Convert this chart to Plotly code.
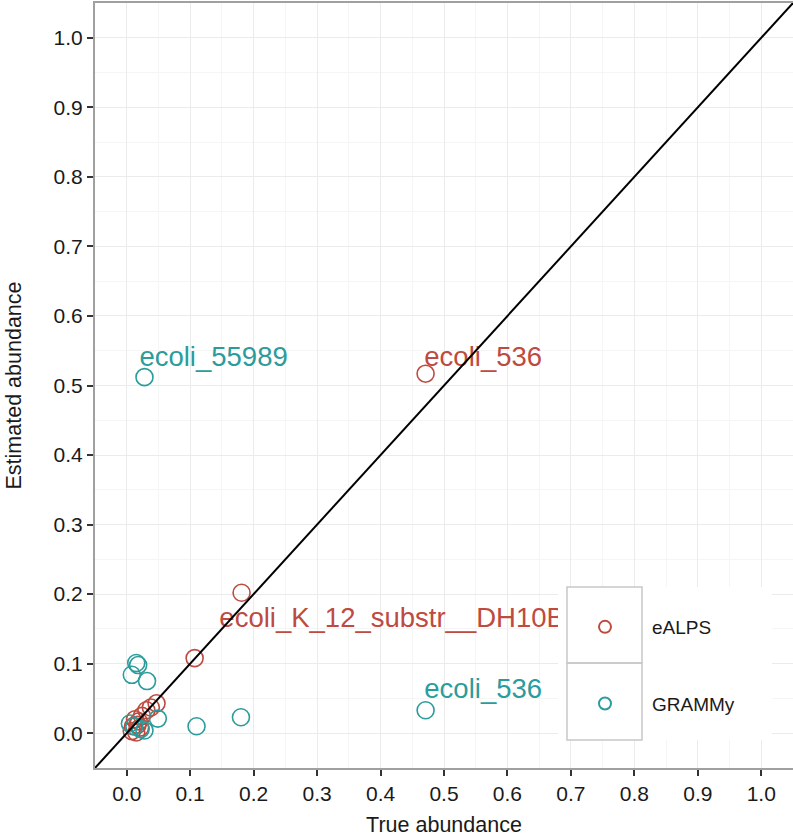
import plotly.graph_objects as go

# ---- data ----
axis_range = [-0.05, 1.05]
tick_vals = [0.0, 0.1, 0.2, 0.3, 0.4, 0.5, 0.6, 0.7, 0.8, 0.9, 1.0]
tick_text = ["0.0", "0.1", "0.2", "0.3", "0.4", "0.5", "0.6", "0.7", "0.8", "0.9", "1.0"]

ealps_true = [0.471, 0.181, 0.107, 0.047, 0.038, 0.031, 0.024, 0.019, 0.013, 0.010, 0.015, 0.008, 0.021, 0.017]
ealps_est = [0.517, 0.202, 0.108, 0.043, 0.037, 0.033, 0.025, 0.017, 0.020, 0.010, 0.001, 0.003, 0.008, 0.012]

grammy_true = [0.028, 0.471, 0.180, 0.110, 0.015, 0.018, 0.008, 0.032, 0.049, 0.005, 0.028, 0.012, 0.022]
grammy_est = [0.512, 0.033, 0.023, 0.010, 0.101, 0.098, 0.084, 0.075, 0.021, 0.014, 0.004, 0.010, 0.006]

ealps_lab_x = [0.469, 0.146]
ealps_lab_y = [0.538, 0.162]
ealps_lab = ["ecoli_536", "ecoli_K_12_substr__DH10B"]

grammy_lab_x = [0.020, 0.469]
grammy_lab_y = [0.538, 0.061]
grammy_lab = ["ecoli_55989", "ecoli_536"]

RED = "#BE4A40"
TEAL = "#2B9C9C"
FONT = "Liberation Sans, Arial, Helvetica, sans-serif"

fig = go.Figure()

fig.add_trace(go.Scatter(
    x=ealps_true, y=ealps_est, mode="markers", name="eALPS",
    legendgroup="a",
    marker=dict(symbol="circle-open", size=17, color=RED, line=dict(width=1.6, color=RED)),
))
fig.add_trace(go.Scatter(
    x=grammy_true, y=grammy_est, mode="markers", name="GRAMMy",
    legendgroup="b",
    marker=dict(symbol="circle-open", size=17, color=TEAL, line=dict(width=1.6, color=TEAL)),
))
fig.add_trace(go.Scatter(
    x=ealps_lab_x, y=ealps_lab_y, text=ealps_lab, mode="text",
    textposition="middle right", showlegend=False,
    textfont=dict(size=27.5, color=RED, family=FONT), cliponaxis=True,
))
fig.add_trace(go.Scatter(
    x=grammy_lab_x, y=grammy_lab_y, text=grammy_lab, mode="text",
    textposition="middle right", showlegend=False,
    textfont=dict(size=27.5, color=TEAL, family=FONT), cliponaxis=True,
))
fig.add_trace(go.Scatter(
    x=axis_range, y=axis_range, mode="lines", showlegend=False,
    line=dict(color="black", width=2),
))

W, H = 793, 837
ml, mr, mt, mb = 95, 0, 3, 69
pw, ph = W - ml - mr, H - mt - mb


def px(xp):
    return (xp - ml) / pw


def py(yp):
    return (H - mb - yp) / ph


shapes = [
    dict(type="rect", xref="paper", yref="paper", x0=px(558), x1=px(772), y0=py(740), y1=py(587),
         fillcolor="white", line=dict(width=0), layer="above"),
    dict(type="rect", xref="paper", yref="paper", x0=px(567), x1=px(642), y0=py(663), y1=py(587),
         fillcolor="rgba(0,0,0,0)", line=dict(width=1.5, color="#C8C8C8"), layer="above"),
    dict(type="rect", xref="paper", yref="paper", x0=px(567), x1=px(642), y0=py(740), y1=py(663),
         fillcolor="rgba(0,0,0,0)", line=dict(width=1.5, color="#C8C8C8"), layer="above"),
]

axis_common = dict(
    range=axis_range, tickvals=tick_vals, ticktext=tick_text,
    ticks="outside", ticklen=6, tickwidth=1.5, tickcolor="#333333",
    showline=True, linecolor="#A0A0A0", linewidth=2, mirror=True,
    showgrid=True, gridcolor="#EBEBEB", gridwidth=1.2, zeroline=False,
    minor=dict(dtick=0.05, tick0=0.05, showgrid=True, gridcolor="#F5F5F5", gridwidth=1),
    tickfont=dict(size=21, color="#1A1A1A", family=FONT),
    automargin=False,
)

fig.update_layout(
    width=W, height=H,
    margin=dict(l=ml, r=mr, t=mt, b=mb),
    paper_bgcolor="white", plot_bgcolor="white",
    font=dict(family=FONT, color="#1A1A1A"),
    xaxis=dict(**axis_common, title=dict(text="True abundance", font=dict(size=21.5))),
    yaxis=dict(**axis_common, title=dict(text="Estimated abundance", font=dict(size=21.5), standoff=26)),
    shapes=shapes,
    showlegend=True,
    legend=dict(
        x=px(558), y=py(608), xanchor="left", yanchor="top",
        bgcolor="rgba(0,0,0,0)", borderwidth=0,
        font=dict(size=19, color="#1A1A1A", family=FONT),
        itemwidth=84, tracegroupgap=49, traceorder="grouped",
        itemsizing="constant",
    ),
)

fig.write_html("out.html", config={"displayModeBar": False},
               post_script="document.body.style.margin='0';")
